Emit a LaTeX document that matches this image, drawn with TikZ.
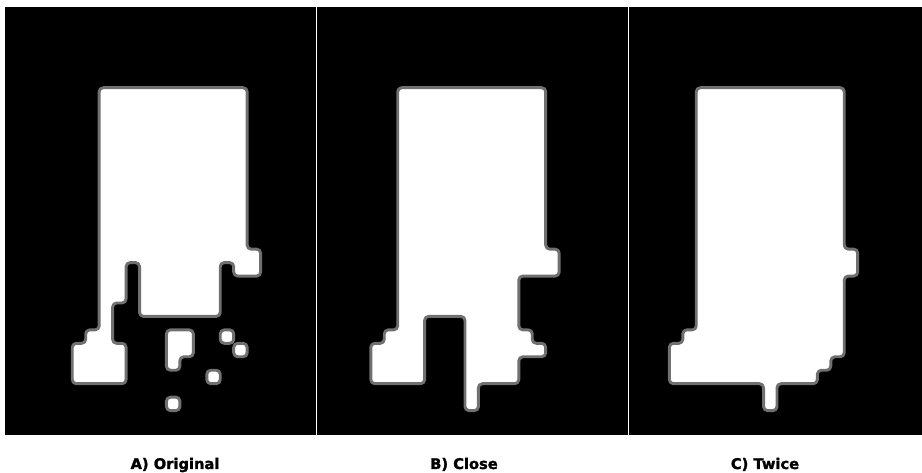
\documentclass[tikz,border=0pt]{standalone}
\usepackage{fontspec}
\usepackage{xcolor}
\usepackage{tikz}
\usetikzlibrary{positioning}
\newfontfamily\capfont[BoldFeatures={FakeBold=1.6}]{DejaVu Sans}
\definecolor{rim}{RGB}{112,112,112}

\begin{document}
\begin{tikzpicture}[x=0.75pt,y=-0.75pt,
    panel/.style={fill=black,draw=none},
    blob/.style={fill=white,draw=rim,line width=2.2pt,rounded corners=3pt,line join=round},
    caption/.style={font=\capfont\bfseries\fontsize{11}{13}\selectfont,inner sep=0pt,anchor=base}]
    \useasboundingbox (0,0) rectangle (922,473);
    \fill[white] (0,0) rectangle (922,473);
    \fill[panel] (5,7) rectangle (315.5,435);
    \fill[panel] (317,7) rectangle (627.5,435);
    \fill[panel] (629,7) rectangle (922,435);

    % A) original mask
    \begin{scope}[shift={(5,7)},x=10.09pt,y=-10.09pt]
      \draw[blob] (7,6) -- (18,6) -- (18,18) -- (19,18) -- (19,20) -- (17,20) -- (17,19)
        -- (16,19) -- (16,23) -- (10,23) -- (10,19) -- (9,19) -- (9,22) -- (8,22) -- (8,25)
        -- (9,25) -- (9,28) -- (5,28) -- (5,25) -- (6,25) -- (6,24) -- (7,24) -- cycle;
      \draw[blob] (12,24) -- (14,24) -- (14,26) -- (13,26) -- (13,27) -- (12,27) -- cycle;
      \draw[blob] (16,24) rectangle (17,25);
      \draw[blob] (17,25) rectangle (18,26);
      \draw[blob] (15,27) rectangle (16,28);
      \draw[blob] (12,29) rectangle (13,30);
    \end{scope}

    % B) after closing
    \begin{scope}[shift={(317,7)},x=10.09pt,y=-10.09pt]
      \draw[blob] (6,6) -- (17,6) -- (17,18) -- (18,18) -- (18,20) -- (15,20) -- (15,24)
        -- (16,24) -- (16,25) -- (17,25) -- (17,26) -- (15,26) -- (15,28) -- (12,28) -- (12,30)
        -- (11,30) -- (11,23) -- (8,23) -- (8,28) -- (4,28) -- (4,25) -- (5,25) -- (5,24)
        -- (6,24) -- cycle;
    \end{scope}

    % C) closing twice
    \begin{scope}[shift={(629,7)},x=10.09pt,y=-10.09pt]
      \draw[blob] (5,6) -- (16,6) -- (16,18) -- (17,18) -- (17,20) -- (16,20) -- (16,26)
        -- (15,26) -- (15,27) -- (14,27) -- (14,28) -- (11,28) -- (11,30) -- (10,30) -- (10,28)
        -- (3,28) -- (3,25) -- (4,25) -- (4,24) -- (5,24) -- cycle;
    \end{scope}

    \node[caption] (capA) at (175,469) {A) Original};
    \node[caption] (capB) at (464,469) {B) Close};
    \node[caption] (capC) at (765,469) {C) Twice};
  \end{tikzpicture}
\end{document}
